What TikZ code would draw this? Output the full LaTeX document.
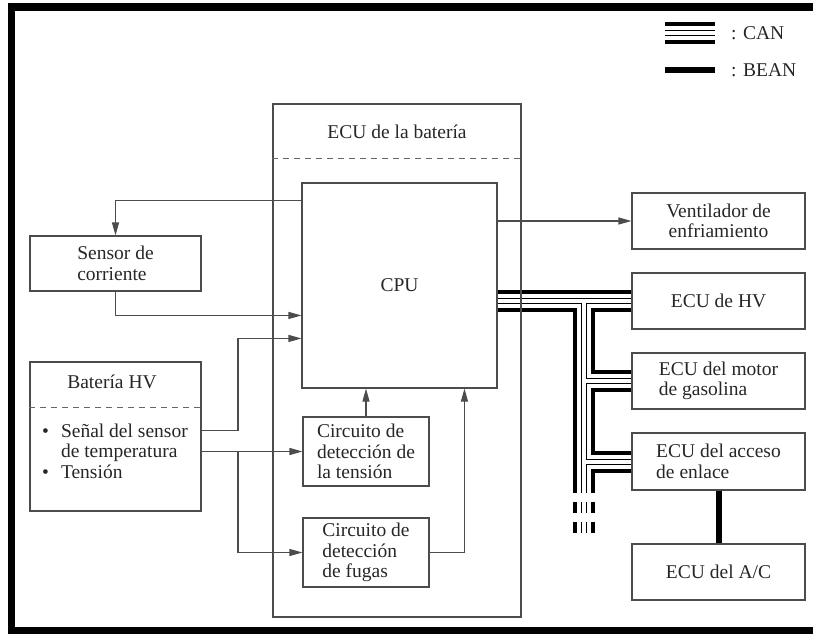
\documentclass[tikz,border=0pt]{standalone}
\usepackage{fontspec}
\setmainfont{Liberation Serif}
\usetikzlibrary{arrows.meta,calc,backgrounds}
\begin{document}
\begin{tikzpicture}[x=1pt,y=-1pt,
  txt/.style={font=\fontsize{19.5}{20.5}\selectfont, text=black!85},
  box/.style={draw=black!70, line width=1.1pt, inner sep=0pt, txt},
  conn/.style={draw=black!70, line width=1.1pt},
  arr/.style={conn, -{Triangle[length=13pt,width=7pt]}},
  dsh/.style={draw=black!60, line width=1.1pt, dash pattern=on 6pt off 5pt}]
\path[use as bounding box] (0,0) rectangle (813,634);
% frame
\fill[black] (8,3) rectangle (15,634);
\fill[black] (8,3) rectangle (813,11);
\fill[black] (8,627) rectangle (813,634);
% boxes
\node[box, minimum width=171pt, minimum height=55pt, align=left] (sensor) at (115.5,263.5) {Sensor de\\corriente};
\node[box, minimum width=171pt, minimum height=149pt] (bat) at (115.5,436.5) {};
\node[box, minimum width=248pt, minimum height=513pt] (ecu) at (397,360.5) {};
\node[box, minimum width=195pt, minimum height=205pt] (cpu) at (399.5,285.5) {CPU};
\node[box, minimum width=126pt, minimum height=69pt, align=left] (tens) at (366,451.5) {Circuito de\\detección de\\la tensión};
\node[box, minimum width=126pt, minimum height=69pt, align=left] (fug) at (366,552.5) {Circuito de\\detección\\de fugas};
\node[box, minimum width=173pt, minimum height=56pt, align=center] (vent) at (718.5,221) {Ventilador de\\enfriamiento};
\node[box, minimum width=173pt, minimum height=56pt] (hv) at (718.5,301) {ECU de HV};
\node[box, minimum width=173pt, minimum height=56pt, align=left] (mot) at (718.5,381) {ECU del motor\\de gasolina};
\node[box, minimum width=173pt, minimum height=57pt, align=left] (acc) at (718.5,461.5) {ECU del acceso\\de enlace};
\node[box, minimum width=173pt, minimum height=56pt] (ac) at (718.5,572) {ECU del A/C};
% texts
\node[txt] (ecut) at (397,132) {ECU de la batería};
\node[txt] (batt) at (112,382) {Batería HV};
\node[txt, anchor=west, inner sep=0pt] (bl) at (42,453.5) {\begin{tabular}{@{}l@{\hspace{12pt}}l@{}}\textbullet & Señal del sensor\\ & de temperatura\\ \textbullet & Tensión\end{tabular}};
% dashed separators
\draw[dsh] ($(ecu.north west)+(0,55)$) -- ($(ecu.north east)+(0,55)$);
\draw[dsh] ($(bat.north west)+(0,46)$) -- ($(bat.north east)+(0,46)$);
% connectors
\coordinate (jx) at (238,0);
\coordinate (c1) at ($(cpu.north west)+(0,18)$);
\coordinate (c2) at ($(cpu.north west)+(0,133)$);
\coordinate (c3) at ($(cpu.north west)+(0,156)$);
\coordinate (b1) at ($(bat.north east)+(0,69)$);
\coordinate (c4) at ($(cpu.south west)+(163,0)$);
\draw[arr] (c1) -| (sensor.north);
\draw[arr] (sensor.south) |- (c2);
\draw[arr] (b1) -| (jx |- c3) -- (c3);
\draw[arr] (bat.east |- tens.west) -- (tens.west);
\draw[arr] (jx |- tens.west) |- (fug.west);
\draw[arr] (tens.north) -- (tens.north |- cpu.south);
\draw[arr] (fug.east) -| (c4);
\draw[arr] (cpu.east |- vent.west) -- (vent.west);
% buses
\coordinate (bx) at (584,0);
\coordinate (bend) at (584,493);
\coordinate (bd1) at (584,502);
\coordinate (bd2) at (584,533);
\coordinate (lca) at (665,33);
\coordinate (lcb) at (715,33);
\coordinate (lba) at (665,70);
\coordinate (lbb) at (715,70);
\begin{scope}[on background layer]
\foreach \w/\c in {22/black,14/white,6/black,4/white}{
  \draw[line width=\w pt, draw=\c] (cpu.east |- hv.west) -- (hv.west)
    (bx |- hv.west) -- (bend)
    (bx |- mot.west) -- (mot.west)
    (bx |- acc.west) -- (acc.west)
    (lca) -- (lcb);
  \draw[line width=\w pt, draw=\c, dash pattern=on 11pt off 9pt] (bd1) -- (bd2);
}
\end{scope}
\draw[line width=6pt, black] (acc.south) -- (ac.north);
\draw[line width=6pt, black] (lba) -- (lbb);
\node[txt, anchor=west, inner sep=0pt] (lcan) at (731,33) {: CAN};
\node[txt, anchor=west, inner sep=0pt] (lbean) at (731,70) {: BEAN};
\end{tikzpicture}
\end{document}
